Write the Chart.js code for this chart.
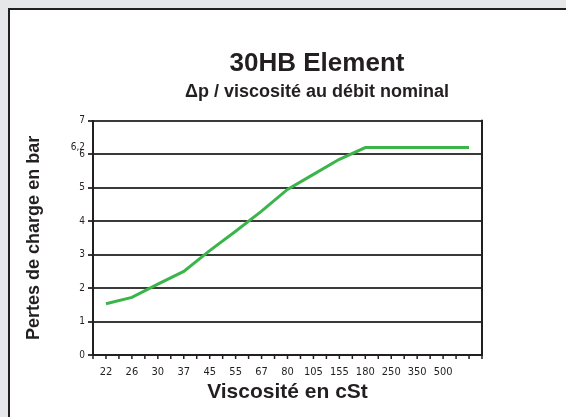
<!DOCTYPE html>
<html>
<head>
<meta charset="utf-8">
<script src="https://cdn.jsdelivr.net/npm/chart.js@4.4.1/dist/chart.umd.min.js"></script>
<style>
  html, body { margin: 0; padding: 0; background: #e6e7e8; }
  #panel { position: absolute; left: 8px; top: 8px; width: 560px; height: 411px;
           background: #fff; border-left: 2px solid #231f20; border-top: 2px solid #231f20; }
  #wrap { position: absolute; left: 0; top: 0; width: 566px; height: 417px; }
</style>
</head>
<body>
<div id="panel"></div>
<div id="wrap"><canvas id="chart" width="566" height="417"></canvas></div>
<script>
// ===== DATA =====
const viscosities = ['22', '26', '30', '37', '45', '55', '67', '80', '105', '155', '180', '250', '350', '500', ''];
const pressureDrop = [1.53, 1.72, 2.12, 2.5, 3.12, 3.7, 4.3, 4.95, 5.4, 5.85, 6.2, 6.2, 6.2, 6.2, 6.2];
const yTickValues = [0, 1, 2, 3, 4, 5, 6, 6.2, 7];

const DARK = '#231f20';
const BOLD = "'Liberation Sans', Arial, sans-serif";
const NARROW = "'Liberation Sans Narrow', 'DejaVu Sans Condensed', sans-serif";

// titles are centred on the whole (cropped) chart panel, not on the plot
const titleShift = {
    id: 'titleShift',
    beforeDraw(chart) {
        chart.boxes.forEach(b => {
            if (b.options && typeof b.options.text === 'string' && b.options.position === 'top') {
                b.left = 68;
                b.right = 566;
            }
        });
    }
};

// frame on the right + small tick marks on the x axis (centers and boundaries)
const framePlugin = {
    id: 'frame',
    afterDatasetsDraw(chart) {
        const { ctx, chartArea: a, scales: { x } } = chart;
        ctx.save();
        ctx.strokeStyle = DARK;
        ctx.lineWidth = 2;
        ctx.beginPath();
        ctx.moveTo(a.right, a.top - 1);
        ctx.lineTo(a.right, a.bottom + 1);
        ctx.stroke();

        const half = (x.getPixelForValue(1) - x.getPixelForValue(0)) / 2;
        ctx.lineWidth = 1.5;
        ctx.beginPath();
        for (let i = 0; i < viscosities.length; i++) {
            const px = x.getPixelForValue(i);
            [px - half, px, px + half].forEach(p => {
                ctx.moveTo(p, a.bottom);
                ctx.lineTo(p, a.bottom + 4);
            });
        }
        ctx.stroke();
        ctx.restore();
    }
};

const ctx = document.getElementById('chart').getContext('2d');
new Chart(ctx, {
    type: 'line',
    data: {
        labels: viscosities,
        datasets: [{
            data: pressureDrop,
            borderColor: '#3bb54a',
            borderWidth: 3,
            tension: 0,
            pointRadius: 0,
            fill: false
        }]
    },
    options: {
        responsive: false,
        animation: false,
        layout: { padding: { left: 20, right: 84, top: 0, bottom: 10 } },
        plugins: {
            legend: { display: false },
            tooltip: { enabled: false },
            title: {
                display: true,
                text: '30HB Element',
                color: DARK,
                font: { family: BOLD, size: 26, weight: 'bold' },
                padding: { top: 48, bottom: 0 }
            },
            subtitle: {
                display: true,
                text: '\u0394p / viscosité au débit nominal',
                color: DARK,
                font: { family: BOLD, size: 18, weight: 'bold' },
                padding: { top: 2, bottom: 18 }
            }
        },
        scales: {
            x: {
                offset: true,
                afterFit: s => { s.height = 52; },
                grid: { display: false, drawTicks: false },
                border: { display: true, color: DARK, width: 2 },
                ticks: {
                    color: DARK, padding: 11, maxRotation: 0, autoSkip: false,
                    font: { family: NARROW, size: 11 }
                },
                title: {
                    display: true,
                    text: 'Viscosité en cSt',
                    color: DARK,
                    font: { family: BOLD, size: 21, weight: 'bold' },
                    padding: { top: 0, bottom: 2 }
                }
            },
            y: {
                min: 0,
                max: 7,
                afterFit: s => { s.width = 73; },
                afterBuildTicks: s => { s.ticks = yTickValues.map(v => ({ value: v })); },
                grid: {
                    color: c => (c.tick && c.tick.value === 6.2) ? 'rgba(0,0,0,0)' : '#3a3a3a',
                    lineWidth: 2,
                    tickLength: 5
                },
                border: { display: true, color: DARK, width: 2 },
                ticks: {
                    color: DARK, padding: 3,
                    font: { family: NARROW, size: 10 },
                    callback: v => String(v).replace('.', ',')
                },
                title: {
                    display: true,
                    text: 'Pertes de charge en bar',
                    color: DARK,
                    font: { family: BOLD, size: 18, weight: 'bold' },
                    padding: { top: 3, bottom: 0 }
                }
            }
        }
    },
    plugins: [titleShift, framePlugin]
});
</script>
</body>
</html>
